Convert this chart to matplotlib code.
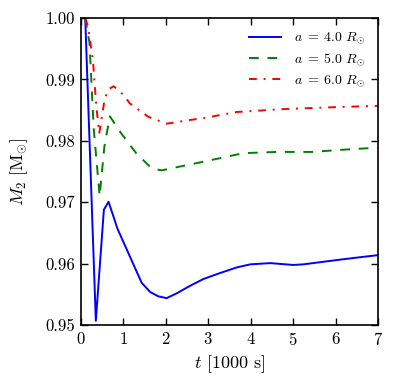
import matplotlib
matplotlib.use('Agg')
import matplotlib.pyplot as plt
from matplotlib.ticker import FormatStrFormatter, MultipleLocator

plt.rcParams['font.family'] = 'serif'
plt.rcParams['font.serif'] = ['cmr10']
plt.rcParams['mathtext.fontset'] = 'cm'
plt.rcParams['axes.formatter.use_mathtext'] = True

# Secondary mass vs time for three separations
t_a4 = [0.1, 0.35, 0.54, 0.65, 0.86, 1.19, 1.43, 1.63, 1.82, 2.02, 2.26, 2.57,
        2.88, 3.2, 3.67, 3.99, 4.46, 5.01, 5.24, 6.03, 6.5, 7.0]
m_a4 = [1.000, 0.9507, 0.9688, 0.9701, 0.9657, 0.9606, 0.9569, 0.9554, 0.9547,
        0.9544, 0.9552, 0.9564, 0.9575, 0.9583, 0.9594, 0.9599, 0.9601, 0.9598,
        0.9599, 0.9606, 0.9610, 0.9614]

t_a5 = [0.1, 0.2, 0.3, 0.44, 0.55, 0.68, 0.95, 1.3, 1.67, 1.9, 2.88, 3.83,
        4.61, 5.47, 6.03, 7.0]
m_a5 = [1.000, 0.996, 0.982, 0.9710, 0.9790, 0.9840, 0.9812, 0.9780, 0.9755,
        0.9752, 0.9766, 0.9780, 0.9782, 0.9782, 0.9785, 0.9789]

t_a6 = [0.1, 0.17, 0.28, 0.36, 0.43, 0.56, 0.65, 0.77, 1.0, 1.15, 1.59, 2.02,
        2.57, 2.88, 3.67, 4.85, 6.03, 7.0]
m_a6 = [1.000, 0.9985, 0.9932, 0.9858, 0.9812, 0.9869, 0.9884, 0.9889, 0.9875,
        0.9861, 0.9839, 0.9828, 0.9834, 0.9837, 0.9847, 0.9852, 0.9855, 0.9857]

labels = [r'$a\;=\;4.0\ R_{\odot}$', r'$a\;=\;5.0\ R_{\odot}$', r'$a\;=\;6.0\ R_{\odot}$']

fig = plt.figure(figsize=(3.95, 3.83), dpi=100)
ax = fig.add_axes([0.205, 0.151, 0.752, 0.802])

ax.plot(t_a4, m_a4, '-', color='blue', lw=1.4, label=labels[0])
ax.plot(t_a5, m_a5, '--', color='green', lw=1.4, dashes=(5, 4.5), label=labels[1])
ax.plot(t_a6, m_a6, '-.', color='red', lw=1.4, dashes=(4, 3.5, 1, 3.5), label=labels[2])

ax.set_xlim(0, 7)
ax.set_ylim(0.95, 1.00)
ax.xaxis.set_major_locator(MultipleLocator(1))
ax.yaxis.set_major_locator(MultipleLocator(0.01))
ax.yaxis.set_major_formatter(FormatStrFormatter('%.2f'))
ax.tick_params(direction='in', top=True, right=True, length=5, width=1, labelsize=12, pad=4)
for s in ax.spines.values():
    s.set_linewidth(1.2)

ax.set_xlabel(r'$t$ [1000 s]', fontsize=13, labelpad=4)
ax.set_ylabel(r'$M_2\ [\mathrm{M}_{\odot}]$', fontsize=13, labelpad=11)

ax.legend(loc='upper right', frameon=False, fontsize=10, handlelength=2.3,
          handletextpad=1.0, borderaxespad=0.5, labelspacing=0.35)

fig.savefig('out.png', dpi=100)
